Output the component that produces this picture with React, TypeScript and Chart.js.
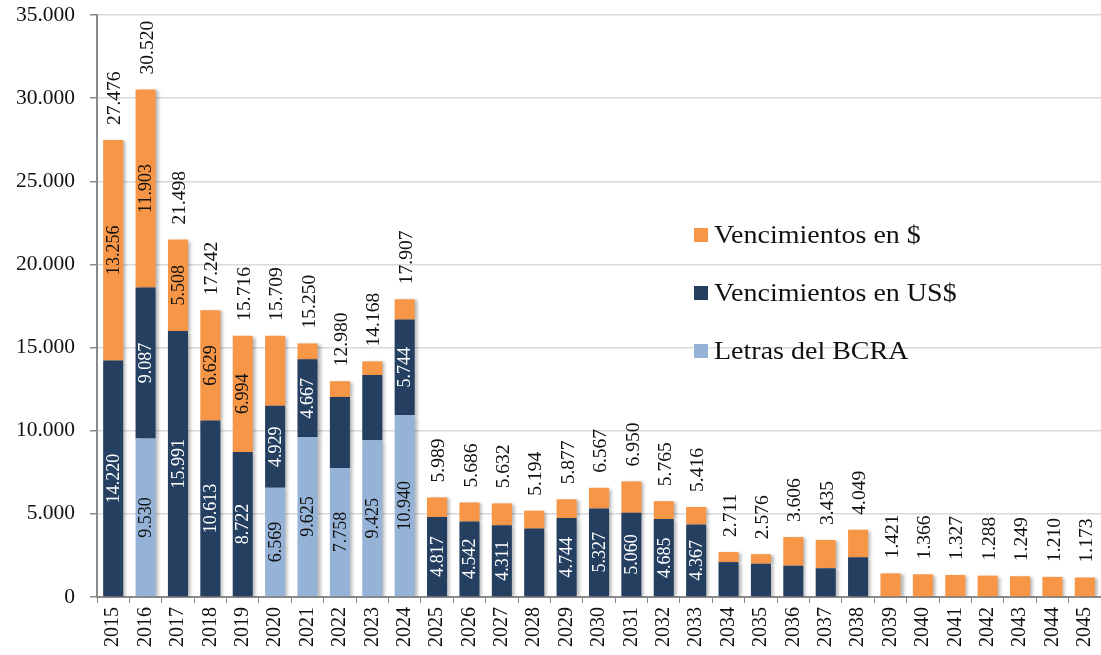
import React, { useEffect, useRef } from "react";
import { Chart, registerables } from "chart.js";

Chart.register(...registerables);

const years = [
  "2015", "2016", "2017", "2018", "2019", "2020", "2021", "2022", "2023", "2024",
  "2025", "2026", "2027", "2028", "2029", "2030", "2031", "2032", "2033", "2034",
  "2035", "2036", "2037", "2038", "2039", "2040", "2041", "2042", "2043", "2044", "2045",
];

const letrasBCRA = [
  0, 9530, 0, 0, 0, 6569, 9625, 7758, 9425, 10940,
  0, 0, 0, 0, 0, 0, 0, 0, 0, 0,
  0, 0, 0, 0, 0, 0, 0, 0, 0, 0, 0,
];

const vencUSD = [
  14220, 9087, 15991, 10613, 8722, 4929, 4667, 4269, 3926, 5744,
  4817, 4542, 4311, 4115, 4744, 5327, 5060, 4685, 4367, 2100,
  2000, 1880, 1730, 2390, 0, 0, 0, 0, 0, 0, 0,
];

const vencPesos = [
  13256, 11903, 5508, 6629, 6994, 4211, 958, 953, 817, 1223,
  1172, 1144, 1321, 1079, 1133, 1240, 1890, 1080, 1049, 611,
  576, 1726, 1705, 1659, 1421, 1366, 1327, 1288, 1249, 1210, 1173,
];

const totals = [
  27476, 30520, 21498, 17242, 15716, 15709, 15250, 12980, 14168, 17907,
  5989, 5686, 5632, 5194, 5877, 6567, 6950, 5765, 5416, 2711,
  2576, 3606, 3435, 4049, 1421, 1366, 1327, 1288, 1249, 1210, 1173,
];

const yTicks = [0, 5000, 10000, 15000, 20000, 25000, 30000, 35000];

const LABEL_MIN = 4300;
const FONT = "'Liberation Serif', 'Times New Roman', serif";

const COLORS = {
  pesos: "#F79646",
  usd: "#253F61",
  letras: "#95B3D7",
};

const fmt = (n: number) => String(Math.round(n)).replace(/\B(?=(\d{3})+(?!\d))/g, ".");

const shadowPlugin = {
  id: "barShadow",
  beforeDatasetDraw(chart: any) {
    const ctx = chart.ctx;
    ctx.save();
    ctx.shadowColor = "rgba(0,0,0,0.28)";
    ctx.shadowBlur = 3;
    ctx.shadowOffsetX = 3;
    ctx.shadowOffsetY = 1;
  },
  afterDatasetDraw(chart: any) {
    chart.ctx.restore();
  },
};

const labelsPlugin = {
  id: "barLabels",
  afterDatasetsDraw(chart: any) {
    const ctx = chart.ctx;
    const labelColors = ["#111111", "#ffffff", "#111111"];
    chart.data.datasets.forEach((ds: any, i: number) => {
      const meta = chart.getDatasetMeta(i);
      meta.data.forEach((el: any, j: number) => {
        const v = ds.data[j];
        if (!v || v < LABEL_MIN) return;
        ctx.save();
        ctx.translate(el.x, (el.y + el.base) / 2);
        ctx.rotate(-Math.PI / 2);
        ctx.font = `18px ${FONT}`;
        ctx.fillStyle = labelColors[i];
        ctx.textAlign = "center";
        ctx.textBaseline = "middle";
        ctx.fillText(fmt(v), 0, 1);
        ctx.restore();
      });
    });
    const yScale = chart.scales.y;
    const meta0 = chart.getDatasetMeta(0);
    totals.forEach((t, j) => {
      const el = meta0.data[j];
      const top = yScale.getPixelForValue(t);
      ctx.save();
      ctx.translate(el.x + 1, top - 15);
      ctx.rotate(-Math.PI / 2);
      ctx.font = `19.5px ${FONT}`;
      ctx.fillStyle = "#111111";
      ctx.textAlign = "left";
      ctx.textBaseline = "middle";
      ctx.fillText(fmt(t), 0, 1);
      ctx.restore();
    });
  },
};

const legendPlugin = {
  id: "customLegend",
  afterDraw(chart: any) {
    const ctx = chart.ctx;
    const order = [2, 1, 0];
    const rowsY = [235, 293, 351];
    order.forEach((dsIndex, k) => {
      const ds = chart.data.datasets[dsIndex];
      const y = rowsY[k];
      ctx.save();
      ctx.fillStyle = ds.backgroundColor;
      ctx.fillRect(694, y - 7, 14, 14);
      ctx.translate(714, y + 1);
      ctx.scale(1.12, 1);
      ctx.font = `25px ${FONT}`;
      ctx.fillStyle = "#111111";
      ctx.textAlign = "left";
      ctx.textBaseline = "middle";
      ctx.fillText(ds.label, 0, 0);
      ctx.restore();
    });
  },
};

export default function App() {
  const canvasRef = useRef<HTMLCanvasElement | null>(null);

  useEffect(() => {
    if (!canvasRef.current) return;
    const chart = new Chart(canvasRef.current, {
      type: "bar",
      data: {
        labels: years,
        datasets: [
          {
            label: "Letras del BCRA",
            data: letrasBCRA,
            backgroundColor: COLORS.letras,
            barPercentage: 0.62,
            categoryPercentage: 1,
          },
          {
            label: "Vencimientos en US$",
            data: vencUSD,
            backgroundColor: COLORS.usd,
            barPercentage: 0.62,
            categoryPercentage: 1,
          },
          {
            label: "Vencimientos en $",
            data: vencPesos,
            backgroundColor: COLORS.pesos,
            barPercentage: 0.62,
            categoryPercentage: 1,
          },
        ],
      },
      options: {
        responsive: false,
        animation: false,
        devicePixelRatio: 1,
        layout: { padding: { top: 15, right: 0, left: 0, bottom: 0 } },
        plugins: {
          legend: { display: false },
          tooltip: { enabled: false },
        },
        scales: {
          x: {
            stacked: true,
            grid: {
              display: true,
              drawOnChartArea: false,
              drawTicks: true,
              tickLength: 6,
              tickColor: "#8a8a8a",
              offset: true,
            },
            border: { display: true, color: "#8a8a8a", width: 2 },
            ticks: {
              minRotation: 90,
              maxRotation: 90,
              autoSkip: false,
              padding: 4,
              color: "#111111",
              font: { family: FONT, size: 20 },
            },
            afterFit: (s: any) => {
              s.height = 58;
              s.paddingTop = 0;
              s.paddingBottom = 0;
              s.paddingLeft = 0;
              s.paddingRight = 0;
            },
          },
          y: {
            stacked: true,
            min: 0,
            max: 35000,
            afterBuildTicks: (s: any) => {
              s.ticks = yTicks.map((v) => ({ value: v }));
            },
            grid: {
              color: "#d9d9d9",
              lineWidth: 1.5,
              drawTicks: true,
              tickLength: 7,
              tickColor: "#8a8a8a",
            },
            border: { display: true, color: "#8a8a8a", width: 2 },
            ticks: {
              padding: 15,
              color: "#111111",
              font: { family: FONT, size: 21.5 },
              callback: (v: any) => fmt(Number(v)),
            },
            afterFit: (s: any) => {
              s.width = 97;
              s.paddingTop = 0;
              s.paddingBottom = 0;
              s.paddingLeft = 0;
              s.paddingRight = 0;
            },
          },
        },
      },
      plugins: [shadowPlugin, labelsPlugin, legendPlugin],
    });
    return () => chart.destroy();
  }, []);

  return (
    <div style={{ position: "fixed", left: 0, top: 0, width: 1101, height: 655, background: "#ffffff" }}>
      <canvas ref={canvasRef} width={1101} height={655} style={{ width: 1101, height: 655 }} />
    </div>
  );
}
